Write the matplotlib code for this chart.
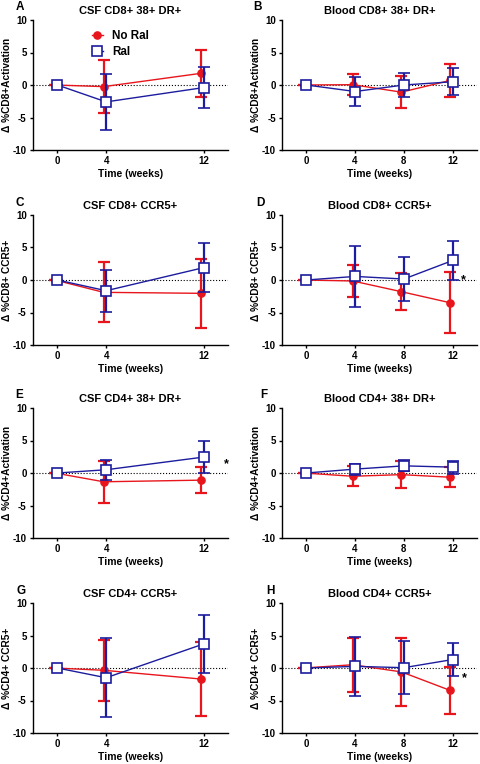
import matplotlib.pyplot as plt
from matplotlib.lines import Line2D

plt.rcParams["font.family"] = ["Liberation Sans", "DejaVu Sans"]
plt.rcParams["font.weight"] = "bold"
plt.rcParams["axes.unicode_minus"] = False

RED = "#e8161c"
BLUE = "#1c1c9e"

weeks_csf = [0, 4, 12]
weeks_blood = [0, 4, 8, 12]

# panel data: mean and error (SD) for No Ral / Ral
a_noral = [0, -0.25, 1.8]
a_noral_err = [0, 4.1, 3.6]
a_ral = [0, -2.6, -0.4]
a_ral_err = [0, 4.3, 3.2]

b_noral = [0, 0.05, -1.1, 0.7]
b_noral_err = [0, 1.6, 2.5, 2.6]
b_ral = [0, -1.0, 0.0, 0.5]
b_ral_err = [0, 2.3, 1.9, 2.1]

c_noral = [0, -1.9, -2.05]
c_noral_err = [0, 4.6, 5.35]
c_ral = [0, -1.65, 1.9]
c_ral_err = [0, 3.25, 3.75]

d_noral = [0, -0.15, -1.8, -3.5]
d_noral_err = [0, 2.5, 2.8, 4.7]
d_ral = [0, 0.55, 0.15, 3.0]
d_ral_err = [0, 4.75, 3.35, 2.95]

e_noral = [0, -1.35, -1.1]
e_noral_err = [0, 3.2, 1.95]
e_ral = [0, 0.5, 2.45]
e_ral_err = [0, 1.55, 2.4]

f_noral = [0, -0.5, -0.25, -0.65]
f_noral_err = [0, 1.55, 2.1, 1.55]
f_ral = [0, 0.6, 1.1, 0.9]
f_ral_err = [0, 0.85, 0.85, 1.0]

g_noral = [0, -0.35, -1.7]
g_noral_err = [0, 4.7, 5.7]
g_ral = [0, -1.5, 3.7]
g_ral_err = [0, 6.1, 4.4]

h_noral = [0, 0.5, -0.6, -3.45]
h_noral_err = [0, 4.15, 5.25, 3.6]
h_ral = [0, 0.25, 0.05, 1.3]
h_ral_err = [0, 4.55, 4.1, 2.5]

panels = [
    ("A", "CSF CD8+ 38+ DR+", "Δ %CD8+Activation", weeks_csf, a_noral, a_noral_err, a_ral, a_ral_err, None),
    ("B", "Blood CD8+ 38+ DR+", "Δ %CD8+Activation", weeks_blood, b_noral, b_noral_err, b_ral, b_ral_err, None),
    ("C", "CSF CD8+ CCR5+", "Δ %CD8+ CCR5+", weeks_csf, c_noral, c_noral_err, c_ral, c_ral_err, None),
    ("D", "Blood CD8+ CCR5+", "Δ %CD8+ CCR5+", weeks_blood, d_noral, d_noral_err, d_ral, d_ral_err, (12.9, 0.0)),
    ("E", "CSF CD4+ 38+ DR+", "Δ %CD4+Activation", weeks_csf, e_noral, e_noral_err, e_ral, e_ral_err, (13.9, 1.3)),
    ("F", "Blood CD4+ 38+ DR+", "Δ %CD4+Activation", weeks_blood, f_noral, f_noral_err, f_ral, f_ral_err, None),
    ("G", "CSF CD4+ CCR5+", "Δ %CD4+ CCR5+", weeks_csf, g_noral, g_noral_err, g_ral, g_ral_err, None),
    ("H", "Blood CD4+ CCR5+", "Δ %CD4+ CCR5+", weeks_blood, h_noral, h_noral_err, h_ral, h_ral_err, (12.95, -1.5)),
]

W, H = 480, 764
fig = plt.figure(figsize=(W / 100, H / 100), dpi=100)

lefts_px = [33, 282]
width_px = 195
tops_px = [20, 215, 408, 603]
height_px = 130
letter_x_px = [20, 257, 20, 260, 19, 264, 21, 270]

for i, (letter, title, ylab, x, nr, nr_err, r, r_err, star) in enumerate(panels):
    left = lefts_px[i % 2]
    top = tops_px[i // 2]
    ax = fig.add_axes([left / W, 1 - (top + height_px) / H, width_px / W, height_px / H])
    ax.axhline(0, color="black", ls=":", lw=0.8, zorder=1)

    xr = [v - 0.2 for v in x]
    ax.errorbar(xr, nr, yerr=nr_err, color=RED, lw=1.0, elinewidth=1.6,
                capsize=4.5, capthick=1.6, marker="o", ms=5.2, mfc=RED,
                mec=RED, zorder=3)
    ax.errorbar(x, r, yerr=r_err, color=BLUE, lw=1.0, elinewidth=1.6,
                capsize=4.5, capthick=1.6, marker="s", ms=6.5, mfc="white",
                mec=BLUE, mew=1.2, zorder=4)

    if star is not None:
        ax.text(star[0], star[1], "*", fontsize=9, fontweight="bold",
                ha="center", va="center")

    ax.set_xlim(-2, 14)
    ax.set_ylim(-10, 10)
    ax.set_xticks(x)
    ax.set_yticks([-10, -5, 0, 5, 10])
    ax.spines["top"].set_visible(False)
    ax.spines["right"].set_visible(False)
    for s in ("left", "bottom"):
        ax.spines[s].set_linewidth(1.0)
    ax.tick_params(labelsize=7, length=2.5, width=1.0, pad=2)
    for lbl in ax.get_xticklabels() + ax.get_yticklabels():
        lbl.set_fontweight("bold")
    ax.set_title(title, fontsize=8, fontweight="bold", pad=4)
    ax.set_ylabel(ylab, fontsize=7.3, fontweight="bold")
    ax.yaxis.set_label_coords(-0.11, 0.5)
    ax.set_xlabel("Time (weeks)", fontsize=7.5, fontweight="bold", labelpad=2)
    fig.text(letter_x_px[i] / W, 1 - (top - 12.5) / H, letter, fontsize=8.5,
             fontweight="bold", ha="center", va="center")

    if letter == "A":
        handles = [
            Line2D([], [], color=RED, lw=1.0, marker="o", ms=5.2, mfc=RED, mec=RED),
            Line2D([], [], color=BLUE, lw=1.0, marker="s", ms=6.5, mfc="white",
                   mec=BLUE, mew=1.2),
        ]
        ax.legend(handles, ["No Ral", "Ral"], loc="upper left",
                  bbox_to_anchor=(0.30, 0.92), frameon=False, fontsize=8.4,
                  handlelength=1.0, handletextpad=0.8, borderaxespad=0,
                  borderpad=0, labelspacing=0.3)

fig.savefig("out.png", dpi=100)
